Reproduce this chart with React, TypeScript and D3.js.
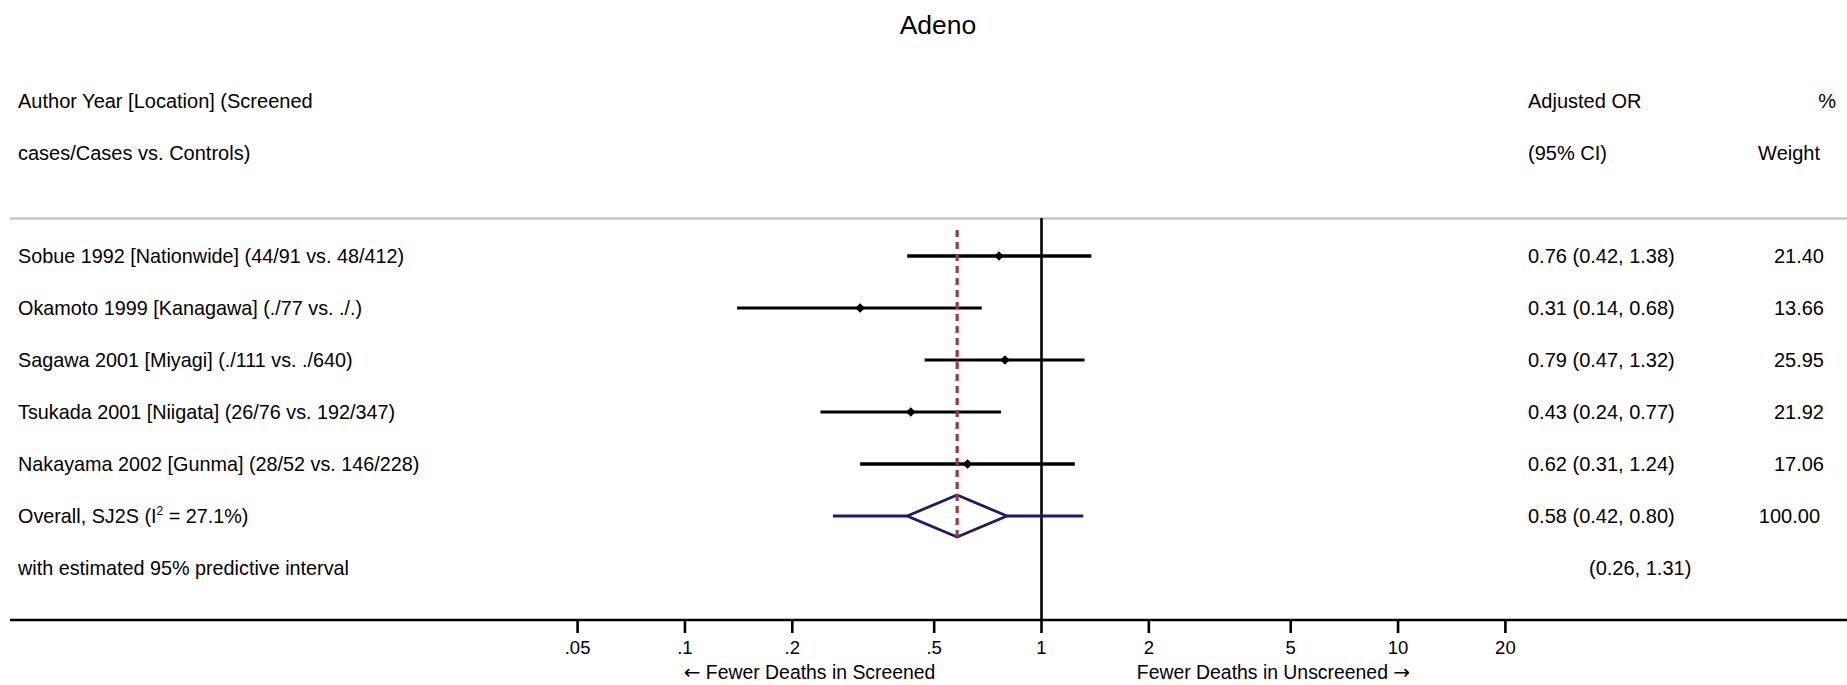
import React from "react";
import * as d3 from "d3";

const chartTitle = "Adeno";
const studyLabels = [
  "Sobue 1992 [Nationwide] (44/91 vs. 48/412)",
  "Okamoto 1999 [Kanagawa] (./77 vs. ./.)",
  "Sagawa 2001 [Miyagi] (./111 vs. ./640)",
  "Tsukada 2001 [Niigata] (26/76 vs. 192/347)",
  "Nakayama 2002 [Gunma] (28/52 vs. 146/228)",
];
const orValues = [0.76, 0.31, 0.79, 0.43, 0.62];
const lowerCI = [0.42, 0.14, 0.47, 0.24, 0.31];
const upperCI = [1.38, 0.68, 1.32, 0.77, 1.24];
const weights = [21.4, 13.66, 25.95, 21.92, 17.06];
const overallOR = 0.58;
const overallLower = 0.42;
const overallUpper = 0.8;
const overallWeight = 100;
const i2Value = 27.1;
const predLower = 0.26;
const predUpper = 1.31;
const tickValues = [0.05, 0.1, 0.2, 0.5, 1, 2, 5, 10, 20];
const tickLabels = [".05", ".1", ".2", ".5", "1", "2", "5", "10", "20"];
const leftAxisLabel = "Fewer Deaths in Screened";
const rightAxisLabel = "Fewer Deaths in Unscreened";

// styles (not data)
const ciWidths = [3.6, 2.9, 2.9, 2.9, 3.6];

export default function App() {
  const W = 1847;
  const H = 685;
  const font = "Arial, 'Liberation Sans', Helvetica, sans-serif";
  const x = d3.scaleLog().domain([0.05, 20]).range([577.6, 1505.4]);
  const rowY = (i: number) => 256 + i * 52;
  const f2 = d3.format(".2f");
  const ciText = (o: number, l: number, u: number) => `${f2(o)} (${f2(l)}, ${f2(u)})`;
  const navy = "#1a1a6e";
  const overallY = rowY(5);
  const predY = rowY(6);
  const dh = 21;
  const diamond = d3.line()([
    [x(overallLower), overallY],
    [x(overallOR), overallY - dh],
    [x(overallUpper), overallY],
    [x(overallOR), overallY + dh],
    [x(overallLower), overallY],
  ] as [number, number][]) + "Z";
  const m = 4.8;
  const arrowFont = "'DejaVu Sans', sans-serif";
  return (
    <svg width={W} height={H} style={{ position: "absolute", left: 0, top: 0, display: "block", background: "#fff" }} fontFamily={font}>
      <rect x={0} y={0} width={W} height={H} fill="#fff" />
      <text x={938} y={34} fontSize={26.5} textAnchor="middle" fill="#000">{chartTitle}</text>

      {/* headers */}
      <text x={18} y={108} fontSize={20}>Author Year [Location] (Screened</text>
      <text x={18} y={160} fontSize={20}>cases/Cases vs. Controls)</text>
      <text x={1528} y={108} fontSize={20}>Adjusted OR</text>
      <text x={1528} y={160} fontSize={20}>(95% CI)</text>
      <text x={1836} y={108} fontSize={20} textAnchor="end">%</text>
      <text x={1820} y={160} fontSize={20} textAnchor="end">Weight</text>

      <line x1={10} x2={W} y1={218.5} y2={218.5} stroke="#c6c6c6" strokeWidth={2.6} />

      {/* null line */}
      <line x1={x(1)} x2={x(1)} y1={218} y2={620} stroke="#000" strokeWidth={2.6} />

      {/* studies */}
      {studyLabels.map((s, i) => (
        <g key={s}>
          <text x={18} y={rowY(i) + 7} fontSize={19.8}>{s}</text>
          <line x1={x(lowerCI[i])} x2={x(upperCI[i])} y1={rowY(i)} y2={rowY(i)} stroke="#000" strokeWidth={ciWidths[i]} />
          <path
            d={`M${x(orValues[i]) - m},${rowY(i)}L${x(orValues[i])},${rowY(i) - m}L${x(orValues[i]) + m},${rowY(i)}L${x(orValues[i])},${rowY(i) + m}Z`}
            fill="#000"
          />
          <text x={1528} y={rowY(i) + 7} fontSize={20}>{ciText(orValues[i], lowerCI[i], upperCI[i])}</text>
          <text x={1824} y={rowY(i) + 7} fontSize={20} textAnchor="end">{f2(weights[i])}</text>
        </g>
      ))}

      {/* overall */}
      <text x={18} y={overallY + 7} fontSize={19.8}>
        Overall, SJ2S (I<tspan dy={-8} fontSize={12}>2</tspan><tspan dy={8}> = {i2Value}%)</tspan>
      </text>
      <line x1={x(predLower)} x2={x(overallLower)} y1={overallY} y2={overallY} stroke={navy} strokeWidth={2.8} />
      <line x1={x(overallUpper)} x2={x(predUpper)} y1={overallY} y2={overallY} stroke={navy} strokeWidth={2.8} />
      <path d={diamond} fill="none" stroke={navy} strokeWidth={2.8} strokeLinejoin="miter" />
      <text x={1528} y={overallY + 7} fontSize={20}>{ciText(overallOR, overallLower, overallUpper)}</text>
      <text x={1820} y={overallY + 7} fontSize={20} textAnchor="end">{f2(overallWeight)}</text>

      <text x={18} y={predY + 7} fontSize={19.8}>with estimated 95% predictive interval</text>
      <text x={1589} y={predY + 7} fontSize={20}>{`(${f2(predLower)}, ${f2(predUpper)})`}</text>

      {/* overall dashed line */}
      <line x1={x(overallOR)} x2={x(overallOR)} y1={230} y2={541} stroke="#9e3a3e" strokeWidth={3.2} strokeDasharray="7,5" />

      {/* axis */}
      <line x1={10} x2={W} y1={620} y2={620} stroke="#000" strokeWidth={2.6} />
      {tickValues.map((t, i) => (
        <g key={t}>
          <line x1={x(t)} x2={x(t)} y1={620} y2={633} stroke="#000" strokeWidth={2.6} />
          <text x={x(t)} y={654} fontSize={18.5} textAnchor="middle">{tickLabels[i]}</text>
        </g>
      ))}
      <text x={(x(0.05) + x(1)) / 2} y={679} fontSize={19.4} textAnchor="middle">
        <tspan fontFamily={arrowFont} fontSize={20}>{"\u2190"}</tspan> {leftAxisLabel}
      </text>
      <text x={(x(1) + x(20)) / 2} y={679} fontSize={19.4} textAnchor="middle">
        {rightAxisLabel} <tspan fontFamily={arrowFont} fontSize={20}>{"\u2192"}</tspan>
      </text>
    </svg>
  );
}
